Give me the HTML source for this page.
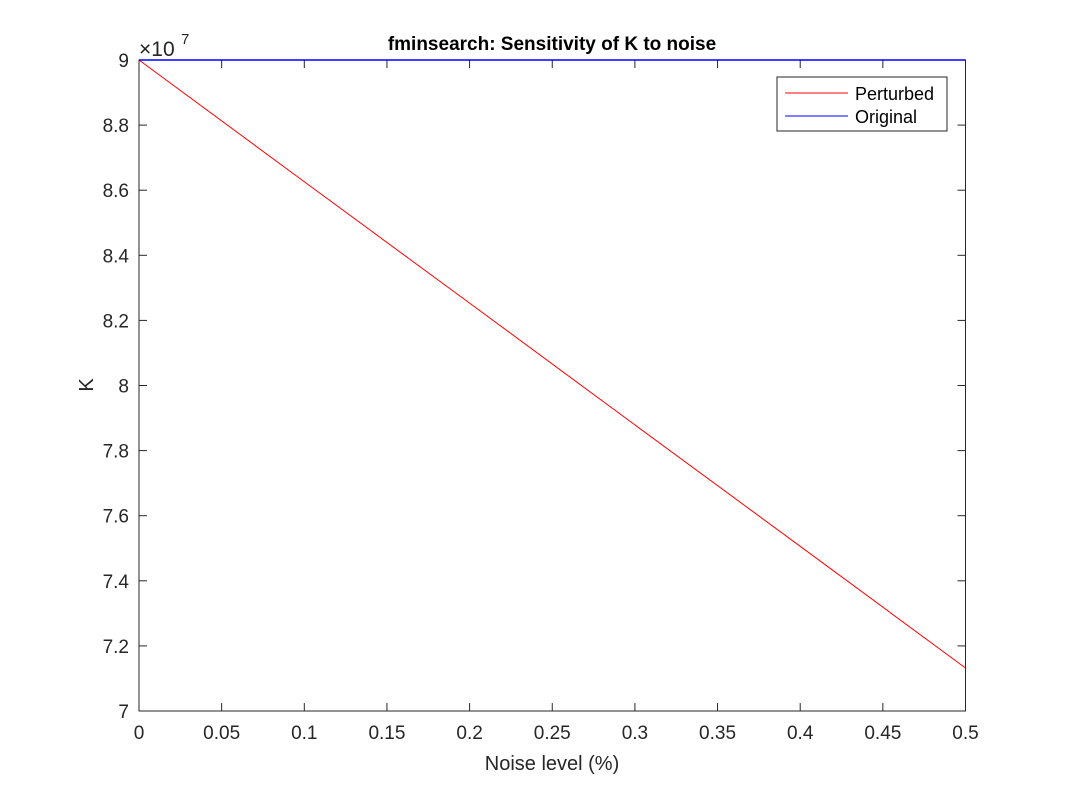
<!DOCTYPE html>
<html><head><meta charset="utf-8"><style>
html,body{margin:0;padding:0;background:#fff;}
svg text{font-family:"Liberation Sans",Helvetica,Arial,sans-serif;}
</style></head><body>
<svg width="1067" height="800" viewBox="0 0 1067 800" xmlns="http://www.w3.org/2000/svg">
<rect x="0" y="0" width="1067" height="800" fill="#fff"/>
<g id="plot"></g>
<text x="552" y="50" text-anchor="middle" font-size="19" font-weight="bold" fill="#000">fminsearch: Sensitivity of K to noise</text>
<text x="552" y="770" text-anchor="middle" font-size="20" fill="#262626">Noise level (%)</text>
<text transform="translate(93,385) rotate(-90)" text-anchor="middle" font-size="20" fill="#262626">K</text>
<g><text x="139" y="56" font-size="21" fill="#262626">×10</text><text x="181" y="44" font-size="15" fill="#262626">7</text></g>
<g>
<rect x="777" y="77" width="170" height="54" fill="#fff" stroke="#262626" stroke-width="1"/>
<g><line x1="785" y1="93" x2="848" y2="93" stroke="#f00" stroke-width="1"/><text x="855" y="100" font-size="18" fill="#000">Perturbed</text></g>
<g><line x1="785" y1="116" x2="848" y2="116" stroke="#00f" stroke-width="1"/><text x="855" y="123" font-size="18" fill="#000">Original</text></g>
</g>
</svg>
<script>
const noiseLevels=[0,0.1,0.2,0.3,0.4,0.5];
const perturbedK=[9.0,8.626,8.253,7.879,7.506,7.132];
const originalK=[9.0,9.0,9.0,9.0,9.0,9.0];
const xTicks=[0,0.05,0.1,0.15,0.2,0.25,0.3,0.35,0.4,0.45,0.5];
const xTickLabels=["0","0.05","0.1","0.15","0.2","0.25","0.3","0.35","0.4","0.45","0.5"];
const yTicks=[7,7.2,7.4,7.6,7.8,8,8.2,8.4,8.6,8.8,9];
const yTickLabels=["7","7.2","7.4","7.6","7.8","8","8.2","8.4","8.6","8.8","9"];
const L=139,R=965.5,T=60,B=711,x0=0,x1=0.5,y0=7,y1=9;
const xs=v=>L+(v-x0)/(x1-x0)*(R-L);
const ys=v=>B-(v-y0)/(y1-y0)*(B-T);
const NS="http://www.w3.org/2000/svg";
const g=document.getElementById('plot');
function mk(t,a){const e=document.createElementNS(NS,t);for(const k in a)e.setAttribute(k,a[k]);g.appendChild(e);return e;}
const frame=mk('rect',{x:L,y:T,width:R-L,height:B-T,fill:'none',stroke:'#262626','stroke-width':1});


xTicks.forEach((v,i)=>{
 const x=xs(v);
 const t1=mk('line',{x1:x,y1:B,x2:x,y2:B-8,stroke:'#262626'});
 
 
 const t2=mk('line',{x1:x,y1:T,x2:x,y2:T+8,stroke:'#262626'});
 
 
 const tx=mk('text',{x:x,y:B+28,'text-anchor':'middle','font-size':19,fill:'#262626'});
 tx.textContent=xTickLabels[i];
 
 
});
yTicks.forEach((v,i)=>{
 const y=ys(v);
 const t1=mk('line',{x1:L,y1:y,x2:L+8,y2:y,stroke:'#262626'});
 
 
 const t2=mk('line',{x1:R,y1:y,x2:R-8,y2:y,stroke:'#262626'});
 
 
 const tx=mk('text',{x:L-10,y:y+7,'text-anchor':'end','font-size':19,fill:'#262626'});
 tx.textContent=yTickLabels[i];
 
 
});
const pp=mk('polyline',{points:noiseLevels.map((v,i)=>xs(v)+','+ys(perturbedK[i])).join(' '),fill:'none',stroke:'#f00','stroke-width':1});


const po=mk('polyline',{points:noiseLevels.map((v,i)=>xs(v)+','+ys(originalK[i])).join(' '),fill:'none',stroke:'#00f','stroke-width':1.5});


</script>
</body></html>
